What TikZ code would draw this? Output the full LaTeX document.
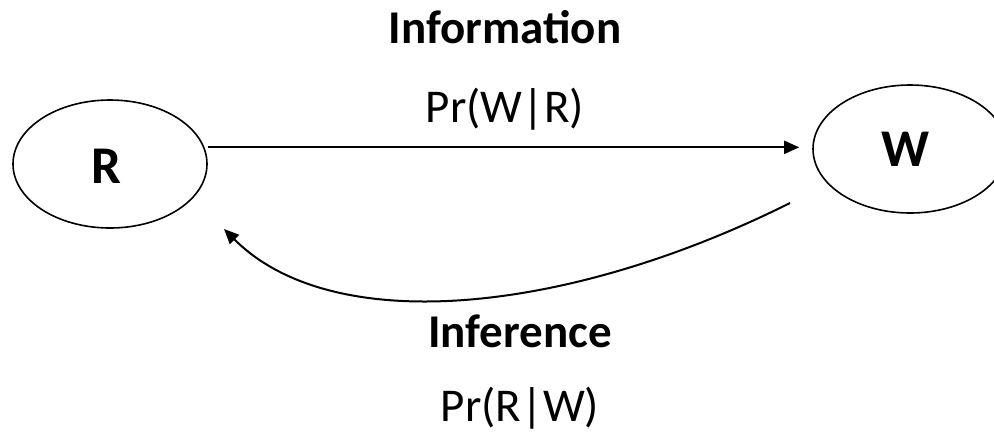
\documentclass[tikz,border=0pt]{standalone}
\usepackage{fontspec}
\setmainfont{Carlito}
\usetikzlibrary{shapes.geometric,arrows.meta,calc}
\begin{document}
\begin{tikzpicture}[x=0.5pt,y=-0.5pt,
  oval/.style={draw,ellipse,line width=0.8pt,minimum width=97pt,minimum height=64pt,inner sep=0pt},
  letter/.style={font=\fontsize{26.5}{30}\selectfont\bfseries,inner sep=0pt},
  head/.style={font=\fontsize{23.5}{28}\selectfont\bfseries,inner sep=0pt,anchor=base},
  prob/.style={font=\fontsize{23.5}{28}\selectfont,inner sep=0pt,anchor=base},
  arr/.style={line width=1pt,-{Triangle[length=7.5pt,width=6.5pt]}}]
\useasboundingbox (0,0) rectangle (994,440);
\node[oval] (R) at (110,164) {};
\node[oval] (W) at (910,149) {};
\node[letter] (Rl) at (106,166) {R};
\node[letter] (Wl) at (905,149) {W};
\node[head] (info) at (505,43) {Information};
\node[prob] (pwr) at (505,122) {Pr(W|R)};
\node[head] (infer) at (520,347) {Inference};
\node[prob] (prw) at (520,421) {Pr(R|W)};
\coordinate (cs) at (790,203);
\coordinate (ce) at (224,229);
\draw[arr,shorten <=1.5pt,shorten >=6.5pt] (R.10) -- (R.10 -| W.west);
\draw[arr] (cs) .. controls (570,313) and (334,339) .. (ce);
\end{tikzpicture}
\end{document}
